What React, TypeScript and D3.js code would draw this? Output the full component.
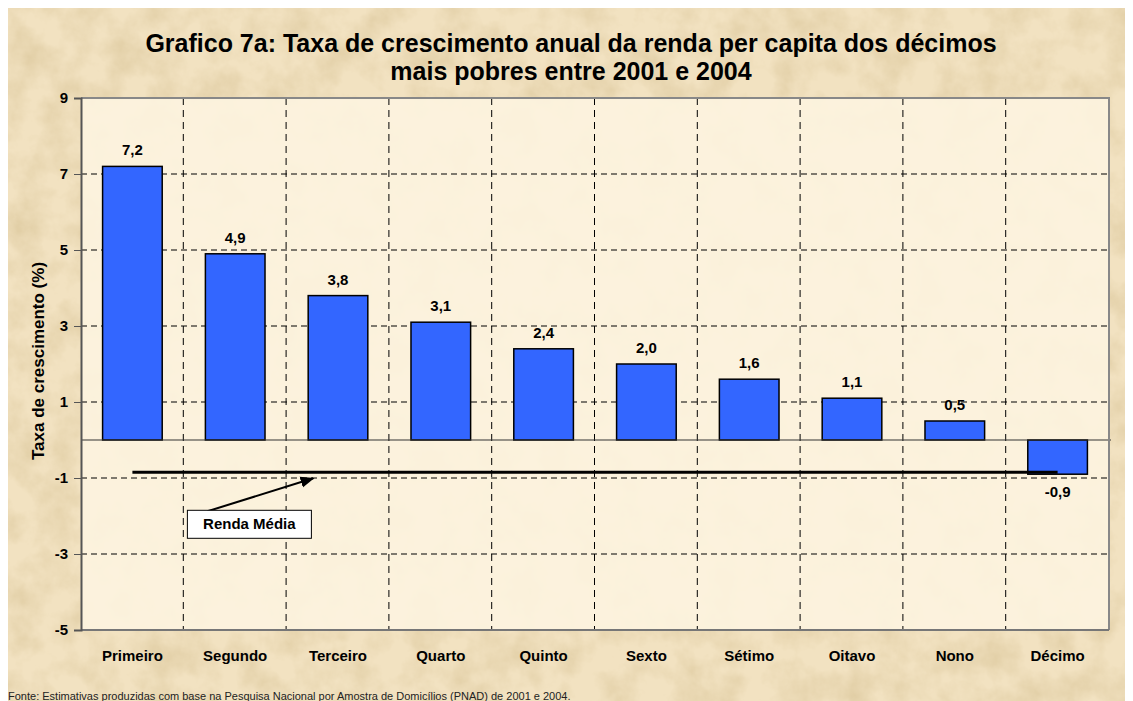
import React, { useEffect, useRef } from 'react';
import * as d3 from 'd3';

const categories = ['Primeiro', 'Segundo', 'Terceiro', 'Quarto', 'Quinto', 'Sexto', 'Sétimo', 'Oitavo', 'Nono', 'Décimo'];
const growth = [7.2, 4.9, 3.8, 3.1, 2.4, 2.0, 1.6, 1.1, 0.5, -0.9];
const labels = ['7,2', '4,9', '3,8', '3,1', '2,4', '2,0', '1,6', '1,1', '0,5', '-0,9'];
const yTicks = [9, 7, 5, 3, 1, -1, -3, -5];
const rendaMedia = -0.85;

const titleLines = [
  'Grafico 7a: Taxa de crescimento anual da renda per capita dos décimos',
  'mais pobres entre 2001 e 2004',
];
const yLabel = 'Taxa de crescimento (%)';
const source = 'Fonte: Estimativas produzidas com base na Pesquisa Nacional por Amostra de Domicílios (PNAD) de 2001 e 2004.';

const App = () => {
  const svgRef = useRef<SVGSVGElement>(null);
  const width = 1125;
  const height = 693;

  useEffect(() => {
    const svg = d3.select(svgRef.current);
    svg.selectAll('*').remove();
    const font = 'Liberation Sans, Arial, sans-serif';

    const margin = { top: 90, right: 24, bottom: 71, left: 73 };
    const x = d3.scaleBand().domain(categories).range([margin.left, width - margin.right]).paddingInner(0.42).paddingOuter(0.21);
    const y = d3.scaleLinear().domain([-5, 9]).range([height - margin.bottom, margin.top]);
    const step = x.step();
    const left = margin.left;
    const right = width - margin.right;
    const top = margin.top;
    const bottom = height - margin.bottom;

    // parchment background
    const defs = svg.append('defs');
    const f = defs.append('filter').attr('id', 'paper').attr('x', 0).attr('y', 0).attr('width', '100%').attr('height', '100%');
    f.append('feTurbulence').attr('type', 'fractalNoise').attr('baseFrequency', 0.03).attr('numOctaves', 5).attr('seed', 3);
    f.append('feColorMatrix').attr('type', 'matrix')
      .attr('values', '0 0 0 0 0.66  0 0 0 0 0.52  0 0 0 0 0.28  1.0 0 0 0 -0.36');
    const arr = defs.append('marker').attr('id', 'arrow').attr('viewBox', '0 0 10 10')
      .attr('refX', 9).attr('refY', 5).attr('markerWidth', 7).attr('markerHeight', 7).attr('orient', 'auto');
    arr.append('path').attr('d', 'M0,1 L10,5 L0,9 Z').attr('fill', '#000');

    svg.append('rect').attr('width', width).attr('height', height).attr('fill', '#F2E2C1');
    svg.append('rect').attr('width', width).attr('height', height).attr('filter', 'url(#paper)');

    // plot area
    svg.append('rect').attr('x', left).attr('y', top).attr('width', right - left).attr('height', bottom - top)
      .attr('fill', '#FDF4E0').attr('fill-opacity', 0.9);

    // grid
    svg.selectAll('.hgrid').data(yTicks.filter(d => d !== 9 && d !== -5)).enter().append('line')
      .attr('x1', left).attr('x2', right).attr('y1', d => y(d)).attr('y2', d => y(d))
      .attr('stroke', '#000').attr('stroke-width', 1).attr('stroke-dasharray', '6,4');
    svg.selectAll('.vgrid').data(categories.slice(1)).enter().append('line')
      .attr('x1', d => (x(d) as number) - x.paddingInner() * step / 2 - 0.5)
      .attr('x2', d => (x(d) as number) - x.paddingInner() * step / 2 - 0.5)
      .attr('y1', top).attr('y2', bottom)
      .attr('stroke', '#000').attr('stroke-width', 1).attr('stroke-dasharray', '7,5');

    // bars
    svg.selectAll('.bar').data(growth).enter().append('rect')
      .attr('x', (d, i) => x(categories[i]) as number)
      .attr('width', x.bandwidth())
      .attr('y', d => y(Math.max(0, d)))
      .attr('height', d => Math.abs(y(d) - y(0)))
      .attr('fill', '#3366FF').attr('stroke', '#000').attr('stroke-width', 1.5);

    // zero line
    svg.append('line').attr('x1', left).attr('x2', right + 2).attr('y1', y(0)).attr('y2', y(0))
      .attr('stroke', '#333').attr('stroke-width', 1.2);

    // borders
    svg.append('path').attr('d', `M${left},${top}H${right}V${bottom}`).attr('fill', 'none')
      .attr('stroke', '#888').attr('stroke-width', 2);
    svg.append('line').attr('x1', left).attr('x2', right).attr('y1', bottom).attr('y2', bottom)
      .attr('stroke', '#777').attr('stroke-width', 2);

    // y axis
    const ya = svg.append('g').attr('transform', `translate(${left},0)`)
      .call(d3.axisLeft(y).tickValues(yTicks).tickSize(7).tickPadding(6).tickFormat(d => String(d)));
    ya.select('.domain').attr('stroke', '#555').attr('stroke-width', 2);
    ya.selectAll('.tick line').attr('stroke', '#555');
    ya.selectAll('text').attr('font-family', font).attr('font-weight', 'bold').attr('font-size', 15).attr('fill', '#000');

    // category labels
    svg.selectAll('.cat').data(categories).enter().append('text')
      .attr('x', d => (x(d) as number) + x.bandwidth() / 2)
      .attr('y', bottom + 31)
      .attr('text-anchor', 'middle')
      .attr('font-family', font).attr('font-weight', 'bold').attr('font-size', 15)
      .text(d => d);

    // value labels
    svg.selectAll('.val').data(growth).enter().append('text')
      .attr('x', (d, i) => (x(categories[i]) as number) + x.bandwidth() / 2)
      .attr('y', d => d >= 0 ? y(d) - 11 : y(d) + 23)
      .attr('text-anchor', 'middle')
      .attr('font-family', font).attr('font-weight', 'bold').attr('font-size', 15)
      .text((d, i) => labels[i]);

    // renda media line
    const c0 = (x(categories[0]) as number) + x.bandwidth() / 2;
    const c9 = (x(categories[9]) as number) + x.bandwidth() / 2;
    svg.append('line').attr('x1', c0).attr('x2', c9).attr('y1', y(rendaMedia)).attr('y2', y(rendaMedia))
      .attr('stroke', '#000').attr('stroke-width', 3);

    // annotation
    const bx = (x('Segundo') as number) - 18;
    const by = y(-1.85);
    const tipX = (x('Terceiro') as number) + 5;
    svg.append('line').attr('x1', bx + 20).attr('y1', by + 1).attr('x2', tipX).attr('y2', y(rendaMedia) + 6)
      .attr('stroke', '#000').attr('stroke-width', 2).attr('marker-end', 'url(#arrow)');
    svg.append('rect').attr('x', bx).attr('y', by).attr('width', 124).attr('height', 28)
      .attr('fill', '#fff').attr('stroke', '#000').attr('stroke-width', 1);
    svg.append('text').attr('x', bx + 62).attr('y', by + 19).attr('text-anchor', 'middle')
      .attr('font-family', font).attr('font-weight', 'bold').attr('font-size', 15).text('Renda Média');

    // title
    svg.selectAll('.title').data(titleLines).enter().append('text')
      .attr('x', 563).attr('y', (d, i) => 44 + i * 28)
      .attr('text-anchor', 'middle')
      .attr('font-family', font).attr('font-weight', 'bold').attr('font-size', 25)
      .text(d => d);

    // y label
    svg.append('text').attr('transform', `translate(36,${(top + bottom) / 2 - 3}) rotate(-90)`)
      .attr('text-anchor', 'middle')
      .attr('font-family', font).attr('font-weight', 'bold').attr('font-size', 17)
      .text(yLabel);

    // source
    svg.append('text').attr('x', 0).attr('y', 692)
      .attr('font-family', font).attr('font-size', 11).attr('fill', '#222')
      .text(source);
  }, []);

  return <svg ref={svgRef} width={width} height={height} style={{ display: 'block' }}></svg>;
};

export default App;
